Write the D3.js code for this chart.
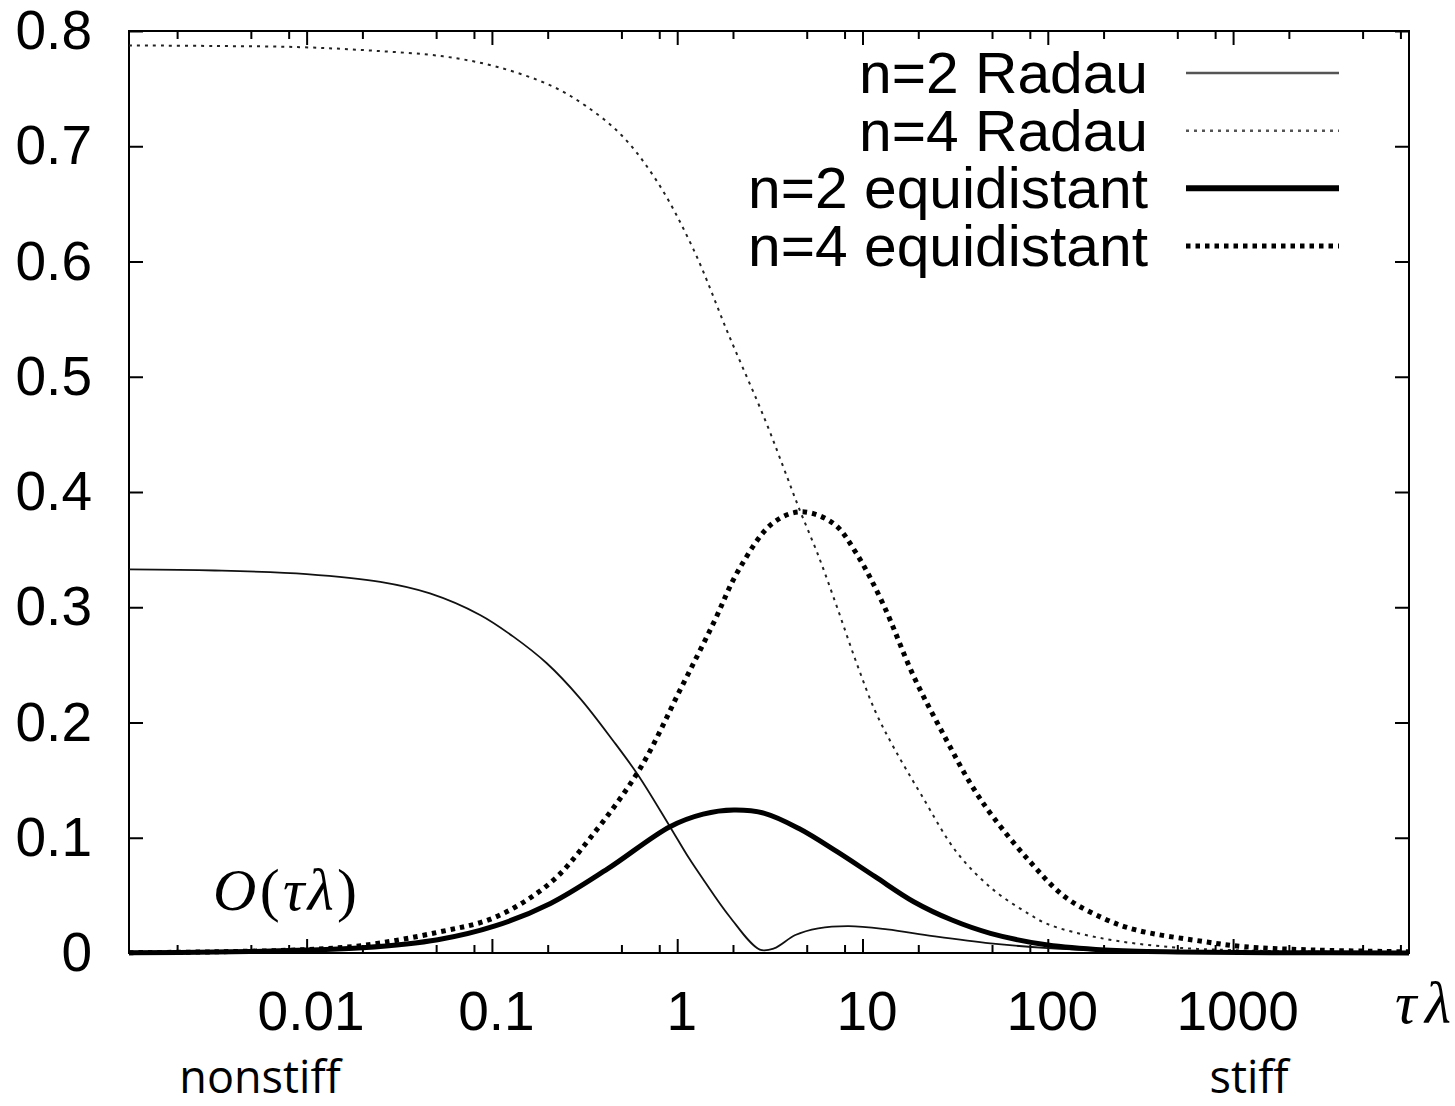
<!DOCTYPE html>
<html>
<head>
<meta charset="utf-8">
<script src="https://cdn.jsdelivr.net/npm/d3@7"></script>
<style>
  html, body { margin: 0; padding: 0; background: #fff; }
  svg { display: block; }
</style>
</head>
<body>
<svg id="chart" width="1455" height="1106"></svg>
<script>
// ---------------- data ----------------
const xMajorTicks = [0.01, 0.1, 1, 10, 100, 1000];
const xMinorTicks = [0.002, 0.005, 0.008, 0.02, 0.05, 0.08, 0.2, 0.5, 0.8, 2, 5, 8, 20, 50, 80, 200, 500, 800, 2000, 5000, 8000];
const yTicks = [0, 0.1, 0.2, 0.3, 0.4, 0.5, 0.6, 0.7, 0.8];

const legendLabels = ["n=2 Radau", "n=4 Radau", "n=2 equidistant", "n=4 equidistant"];

// n=2 Radau (thin solid)
const radau2T = [0.0011, 0.0032, 0.01, 0.025, 0.0463, 0.0863, 0.1305, 0.1977, 0.299, 0.452, 0.617, 0.914, 1.15, 1.38, 1.92, 2.79, 3.33, 4.34, 5.77, 8.43, 13.6, 24, 49, 100, 200, 500, 1600, 8900];
const radau2V = [0.3328, 0.3319, 0.3288, 0.322, 0.312, 0.2933, 0.2745, 0.2514, 0.221, 0.184, 0.154, 0.1096, 0.083, 0.064, 0.0315, 0.003, 0.004, 0.0156, 0.0214, 0.0234, 0.0205, 0.0147, 0.0084, 0.0042, 0.002, 0.0008, 0.0003, 0.0001];

// n=4 Radau (thin dotted)
const radau4T = [0.0011, 0.0032, 0.0092, 0.0224, 0.0546, 0.106, 0.207, 0.321, 0.501, 0.782, 1.22, 1.90, 2.96, 3.94, 4.54, 5.77, 7.29, 9.27, 11.7, 14.9, 20.8, 32.4, 50.7, 78.9, 100, 192, 466, 1000, 3160, 8900];
const radau4V = [0.7875, 0.787, 0.786, 0.783, 0.778, 0.769, 0.7528, 0.735, 0.7095, 0.669, 0.611, 0.536, 0.4637, 0.412, 0.386, 0.345, 0.300, 0.252, 0.210, 0.177, 0.137, 0.087, 0.055, 0.034, 0.025, 0.013, 0.005, 0.0025, 0.001, 0.0004];

// n=2 equidistant (thick solid)
const equi2T = [0.0011, 0.0032, 0.01, 0.02, 0.051, 0.104, 0.207, 0.421, 0.914, 1.38, 2.02, 2.96, 4.54, 7.29, 11.7, 18.9, 30.4, 49, 100, 204, 500, 1600, 8900];
const equi2V = [0.0003, 0.0008, 0.0025, 0.0045, 0.0115, 0.0235, 0.043, 0.073, 0.1096, 0.1205, 0.124, 0.1212, 0.108, 0.0879, 0.0662, 0.0445, 0.0286, 0.0171, 0.0069, 0.0026, 0.0009, 0.0003, 0.0001];

// n=4 equidistant (thick dotted)
const equi4T = [0.0011, 0.0032, 0.01, 0.02, 0.051, 0.104, 0.207, 0.338, 0.63, 1.035, 1.567, 2.14, 3.26, 4.66, 6.97, 9.27, 12.9, 18.9, 27.7, 38.6, 50.7, 79.4, 123, 200, 299, 724, 1135, 2754, 8900];
const equi4V = [0.0003, 0.001, 0.003, 0.0065, 0.018, 0.031, 0.061, 0.0995, 0.160, 0.228, 0.286, 0.332, 0.3727, 0.3828, 0.3727, 0.3467, 0.303, 0.240, 0.188, 0.146, 0.118, 0.080, 0.049, 0.030, 0.020, 0.0095, 0.0055, 0.0026, 0.001];

// ---------------- chart ----------------
const svg = d3.select("#chart");
const L = 129, R = 1409, T = 31, B = 953;

const x = d3.scaleLog().domain([0.0011, 8900]).range([L, R]);
const y = d3.scaleLinear().domain([0, 0.8]).range([B, T]);

const tickFont = "'Liberation Sans', Arimo, Helvetica, Arial, sans-serif";

function styleAxis(g, fontSize) {
  g.select(".domain").remove();
  g.selectAll(".tick line").attr("stroke", "#000").attr("stroke-width", 2);
  g.selectAll(".tick text").attr("fill", "#000").attr("font-size", fontSize).attr("font-family", tickFont);
}

// Y axes (left labelled, right mirrored)
svg.append("g").attr("transform", `translate(${L},0)`)
  .call(d3.axisLeft(y).tickValues(yTicks).tickSize(-14).tickPadding(37)
    .tickFormat(d => d === 0 ? "0" : d.toFixed(1)))
  .call(g => styleAxis(g, 55));
svg.append("g").attr("transform", `translate(${R},0)`)
  .call(d3.axisRight(y).tickValues(yTicks).tickSize(-14).tickFormat(""))
  .call(g => styleAxis(g, 55));

// X axes (bottom labelled, top mirrored), major + minor
svg.append("g").attr("transform", `translate(0,${B})`)
  .call(d3.axisBottom(x).tickValues(xMajorTicks).tickSize(-14).tickPadding(38)
    .tickFormat(d => String(d)))
  .call(g => styleAxis(g, 55))
  .call(g => g.selectAll(".tick text").attr("dx", 4));
svg.append("g").attr("transform", `translate(0,${B})`)
  .call(d3.axisBottom(x).tickValues(xMinorTicks).tickSize(-8).tickFormat(""))
  .call(g => styleAxis(g, 55));
svg.append("g").attr("transform", `translate(0,${T})`)
  .call(d3.axisTop(x).tickValues(xMajorTicks).tickSize(-14).tickFormat(""))
  .call(g => styleAxis(g, 55));
svg.append("g").attr("transform", `translate(0,${T})`)
  .call(d3.axisTop(x).tickValues(xMinorTicks).tickSize(-8).tickFormat(""))
  .call(g => styleAxis(g, 55));

// Frame
svg.append("rect").attr("x", L).attr("y", T).attr("width", R - L).attr("height", B - T)
  .attr("fill", "none").attr("stroke", "#000").attr("stroke-width", 2);

// Series
const series = [
  { t: radau2T, v: radau2V, width: 1.8, dash: null, color: "#111", lw: 2.5, lc: "#555" },
  { t: radau4T, v: radau4V, width: 2, dash: "3,5", color: "#222", lw: 2.5, lc: "#555" },
  { t: equi2T, v: equi2V, width: 5, dash: null, color: "#000", lw: 6, lc: "#000" },
  { t: equi4T, v: equi4V, width: 5, dash: "4.5,5", color: "#000", lw: 5, lc: "#000" }
];

svg.append("clipPath").attr("id", "plotclip")
  .append("rect").attr("x", L - 3).attr("y", T).attr("width", R - L + 6).attr("height", B - T + 4);

const line = d3.line().x(d => x(d[0])).y(d => y(d[1])).curve(d3.curveCatmullRom.alpha(0.5));

series.forEach(s => {
  const pts = s.t.map((t, i) => [t, s.v[i]]);
  svg.append("path").datum(pts)
    .attr("clip-path", "url(#plotclip)")
    .attr("d", line)
    .attr("fill", "none")
    .attr("stroke", s.color)
    .attr("stroke-width", s.width)
    .attr("stroke-dasharray", s.dash)
    .attr("stroke-linejoin", "round");
});

// Legend
const legendRowY = d3.scalePoint().domain(legendLabels).range([73, 246]);
const lg = svg.append("g");
legendLabels.forEach((lab, i) => {
  const s = series[i];
  const yy = legendRowY(lab);
  const txt = lg.append("text").attr("x", 1148).attr("y", yy + 20)
    .attr("text-anchor", "end").attr("font-family", tickFont).attr("font-size", 57)
    .attr("fill", "#000").text(lab);
  const w = txt.node().getComputedTextLength();
  txt.attr("textLength", w * 1.03).attr("lengthAdjust", "spacingAndGlyphs");
  lg.append("line").attr("x1", 1186).attr("x2", 1339).attr("y1", yy).attr("y2", yy)
    .attr("stroke", s.lc).attr("stroke-width", s.lw).attr("stroke-dasharray", s.dash);
});

// Annotations
const serif = "'Liberation Serif', 'DejaVu Serif', 'Times New Roman', serif";
const ot = svg.append("text").attr("x", 213).attr("y", 910)
  .attr("font-family", serif).attr("font-size", 60).attr("fill", "#000")
  .attr("textLength", 144).attr("lengthAdjust", "spacing");
ot.append("tspan").attr("font-style", "italic").text("O");
ot.append("tspan").text("(");
ot.append("tspan").attr("font-style", "italic").text("τλ");
ot.append("tspan").text(")");

svg.append("text").attr("x", 1395).attr("y", 1023)
  .attr("font-family", serif).attr("font-style", "italic").attr("font-size", 60)
  .attr("textLength", 56).attr("lengthAdjust", "spacing")
  .attr("fill", "#000").text("τλ");

const sans2 = "'Open Sans', 'Noto Sans', sans-serif";
svg.append("text").attr("x", 260).attr("y", 1093).attr("text-anchor", "middle")
  .attr("font-family", sans2).attr("font-size", 45).attr("fill", "#000").text("nonstiff");
svg.append("text").attr("x", 1249).attr("y", 1093).attr("text-anchor", "middle")
  .attr("font-family", sans2).attr("font-size", 45).attr("fill", "#000").text("stiff");
</script>
</body>
</html>
